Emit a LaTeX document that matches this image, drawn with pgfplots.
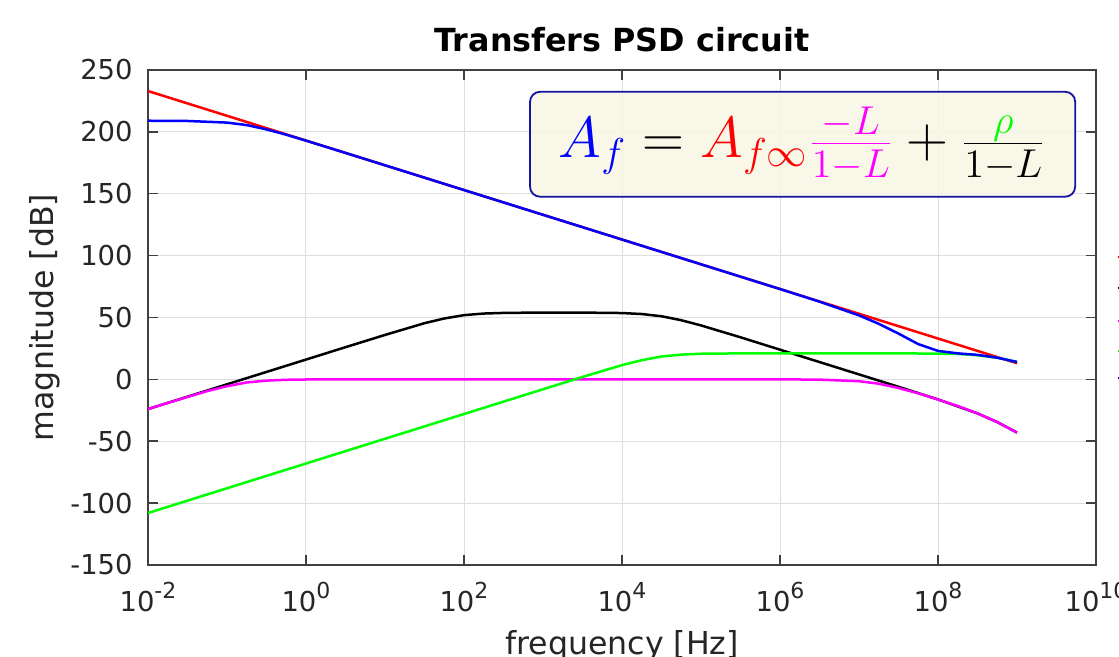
\documentclass[border=0pt]{standalone}
\usepackage[no-math]{fontspec}
\setmainfont{DejaVu Sans}
\usepackage{graphicx}
\usepackage{pgfplots}
\pgfplotsset{compat=1.18}

\definecolor{axgray}{gray}{0.25}
\definecolor{gridgray}{gray}{0.87}
\definecolor{boxfill}{RGB}{247,246,228}
\definecolor{boxedge}{RGB}{20,20,160}
\definecolor{mag}{RGB}{255,0,255}
\definecolor{grn}{RGB}{0,255,0}

\newcommand{\sz}{\fontsize{13.7}{16}\selectfont}
\newcommand{\lz}{\fontsize{15.8}{19}\selectfont}
\newcommand{\ex}[1]{10\raisebox{6.5pt}{\fontsize{11}{11}\selectfont #1}}

\begin{document}
\begin{tikzpicture}
\begin{axis}[
  scale only axis, width=474pt, height=247.5pt,
  xmode=log, xmin=1e-2, xmax=1e10, ymin=-150, ymax=250,
  xtick={1e-2,1,1e2,1e4,1e6,1e8,1e10},
  xticklabels={\ex{-2},\ex{0},\ex{2},\ex{4},\ex{6},\ex{8},\ex{10}},
  minor xtick={},
  ytick={-150,-100,...,250},
  grid=major, major grid style={gridgray, line width=0.5pt},
  tick align=inside, major tick length=5pt,
  axis line style={axgray, line width=0.75pt},
  tick style={axgray, line width=0.75pt},
  /pgf/number format/assume math mode=true,
  every tick label/.append style={font=\sz, text=black!85},
  yticklabel style={inner sep=0pt, anchor=east, xshift=-7.5pt},
  xticklabel style={inner sep=0pt, anchor=base, yshift=-23.5pt},
  title={Transfers PSD circuit},
  title style={font=\bfseries\fontsize{15.9}{19}\selectfont, at={(axis description cs:0.5,1.0364)}, anchor=base, inner sep=0pt, yshift=-6pt},
  xlabel={frequency [Hz]},
  xlabel style={font=\lz, text=black!85, at={(axis description cs:0.5,-0.1697)}, anchor=base, inner sep=0pt, yshift=-3pt},
  ylabel={magnitude [dB]},
  ylabel style={font=\lz, text=black!85, at={(axis description cs:-0.1087,0.5)}, anchor=center},
  legend style={draw=none, fill=none, at={(axis description cs:1,0.5)}, anchor=west, xshift=7pt, font=\sz},
  legend cell align=left,
]
\addplot[red, line width=1.25pt] coordinates {
  (1e-2,233) (1e3,133) (1e9,13)
};
\addplot[black, line width=1.25pt] coordinates {
  (1e-2,-24) (3.16e-2,-14) (1e-1,-4) (3.16e-1,6) (1,16) (3.16,26) (10,35.9)
  (31.6,45.4) (56.2,49.2) (100,51.9) (178,53.2) (316,53.7) (1e3,54.0)
  (3.16e3,53.96) (1e4,53.6) (1.78e4,52.8) (3.16e4,51) (5.62e4,47.8) (1e5,43.6)
  (3.16e5,34) (1e6,24) (3.16e6,14) (1e7,4) (3.16e7,-6) (1e8,-16.2)
  (3.16e8,-27.5) (5.62e8,-34.5) (1e9,-43)
};
\addplot[mag, line width=1.25pt] coordinates {
  (1e-2,-24) (3.16e-2,-14.2) (5.62e-2,-9.5) (1e-1,-5.5) (1.78e-1,-2.5)
  (3.16e-1,-1.0) (5.62e-1,-0.33) (1,-0.1) (3.16,0) (1e6,0) (3.16e6,-0.2)
  (1e7,-1.5) (1.78e7,-3.5) (3.16e7,-7.0) (5.62e7,-11.3) (1e8,-16.3)
  (1.78e8,-21.5) (3.16e8,-27.5) (5.62e8,-34.5) (1e9,-43)
};
\addplot[grn, line width=1.25pt] coordinates {
  (1e-2,-108) (1,-68) (100,-28) (1e3,-8) (3.16e3,1.95) (1e4,11.5)
  (1.78e4,15.5) (3.16e4,18.5) (5.62e4,20.0) (1e5,20.7) (3.16e5,21.0)
  (1e6,21) (1e7,21) (3.16e7,21) (1e8,20.8) (1.78e8,20.5) (3.16e8,19.5)
  (5.62e8,17.5) (1e9,14.0)
};
\addplot[blue, line width=1.25pt] coordinates {
  (1e-2,209) (3.16e-2,208.8) (1e-1,207.5) (1.78e-1,205.5) (3.16e-1,202)
  (5.62e-1,197.7) (1,192.9) (3.16,183) (1e6,73) (3.16e6,62.8) (1e7,51.7)
  (1.78e7,44.9) (3.16e7,37.0) (5.62e7,28.5) (1e8,23) (1.78e8,21)
  (3.16e8,19.8) (5.62e8,17.5) (1e9,14.1)
};
\legend{$A_{f\infty}$, $L$, $\frac{-L}{1-L}$, $\rho$, $A_f$}

\draw[boxedge, fill=boxfill, fill opacity=0.85, rounded corners=5pt, line width=0.9pt]
  (rel axis cs:0.403,0.744) rectangle (rel axis cs:0.978,0.956);
\node at (rel axis cs:0.690,0.850) {\scalebox{1.4}{\fontsize{20}{24}\selectfont
  $\textcolor{blue}{A_f} = \textcolor{red}{A_{f\infty}}\textcolor{mag}{\frac{-L}{1-L}}
   + \frac{\textcolor{grn}{\rho}}{1-L}$}};
\end{axis}
\pgfresetboundingbox
\path[use as bounding box] (-74pt,-46pt) rectangle (485.5pt,282.5pt);
\end{tikzpicture}
\end{document}
